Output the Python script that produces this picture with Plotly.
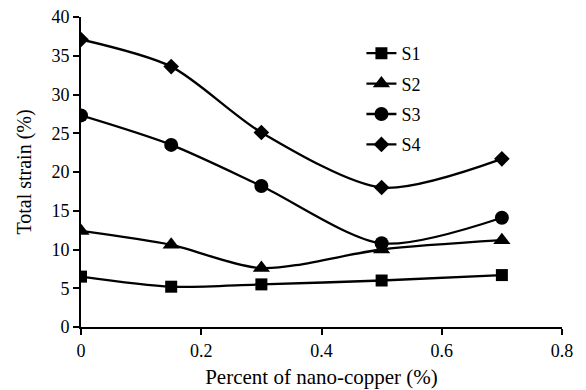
import plotly.graph_objects as go

x = [0, 0.15, 0.3, 0.5, 0.7]
s1 = [6.5, 5.2, 5.5, 6.0, 6.7]
s2 = [12.4, 10.6, 7.6, 10.0, 11.2]
s3 = [27.3, 23.5, 18.2, 10.8, 14.1]
s4 = [37.1, 33.6, 25.1, 18.0, 21.7]
names = ["S1", "S2", "S3", "S4"]
symbols = ["square", "triangle-up", "circle", "diamond"]
sizes = [12, 15, 14, 12]

fig = go.Figure()
for i, (nm, ys) in enumerate(zip(names, [s1, s2, s3, s4])):
    fig.add_trace(go.Scatter(
        x=x, y=ys, name=nm, mode="lines+markers",
        line=dict(color="black", width=2.3, shape="spline", smoothing=0.8),
        marker=dict(symbol=symbols[i], size=sizes[i], color="black"),
        legendgroup=nm,
    ))

font = "Liberation Serif, Times New Roman, serif"
fig.update_layout(
    width=586, height=390,
    margin=dict(l=81, r=24, t=17, b=63),
    paper_bgcolor="white", plot_bgcolor="white",
    font=dict(family=font, size=18, color="black"),
    showlegend=True,
    legend=dict(x=0.583, y=0.942, xanchor="left", yanchor="top",
                font=dict(size=18), tracegroupgap=4,
                bgcolor="rgba(0,0,0,0)", itemwidth=30),
    xaxis=dict(range=[0, 0.8], tickvals=[0, 0.2, 0.4, 0.6, 0.8],
               ticktext=["0", "0.2", "0.4", "0.6", "0.8"],
               showline=True, linecolor="black", linewidth=2,
               ticks="outside", ticklen=6, tickwidth=2, tickcolor="black",
               showgrid=False, zeroline=False, automargin=False,
               title=dict(text="Percent of nano-copper (%)", font=dict(size=21), standoff=10)),
    yaxis=dict(range=[0, 40], tickvals=[0, 5, 10, 15, 20, 25, 30, 35, 40],
               showline=True, linecolor="black", linewidth=2,
               ticks="outside", ticklen=6, tickwidth=2, tickcolor="black",
               showgrid=False, zeroline=False, automargin=False,
               title=dict(text="Total strain (%)", font=dict(size=20), standoff=14)),
)
fig.write_html("out.html")
